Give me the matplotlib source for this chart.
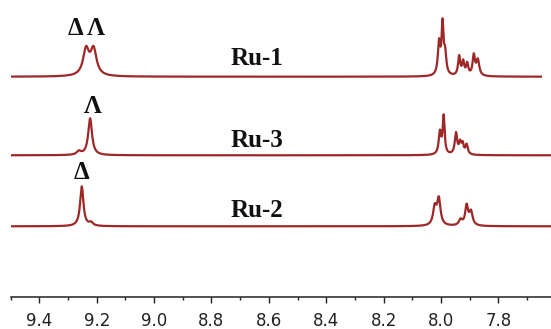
import numpy as np
import matplotlib
matplotlib.use("Agg")
import matplotlib.pyplot as plt

# ---- data (ppm, apex intensity, half-width ppm) ----
ru1_ppm = [9.237, 9.211, 8.007, 7.995, 7.986, 7.937, 7.923, 7.909, 7.886, 7.872]
ru1_height = [30.7, 30.7, 38.4, 58.4, 30.7, 21.7, 17.4, 15.0, 23.4, 18.4]
ru1_width = [0.0125, 0.0125, 0.005, 0.004, 0.005, 0.0045, 0.0045, 0.0045, 0.005, 0.006]

ru3_ppm = [9.262, 9.223, 8.004, 7.991, 7.948, 7.934, 7.925, 7.911]
ru3_height = [5.0, 37.0, 25.7, 41.0, 23.3, 15.7, 14.3, 11.7]
ru3_width = [0.009, 0.008, 0.005, 0.004, 0.005, 0.0045, 0.0045, 0.005]

ru2_ppm = [9.252, 9.220, 8.022, 8.008, 7.932, 7.911, 7.896]
ru2_height = [40.0, 5.0, 23.0, 30.0, 8.0, 22.7, 16.7]
ru2_width = [0.007, 0.008, 0.007, 0.007, 0.007, 0.006, 0.007]

ppm_range = [(9.50, 7.652), (9.50, 7.617), (9.50, 7.617)]
names = ["Ru-1", "Ru-3", "Ru-2"]
isomer_labels = ["\u0394 \u039b", "\u039b", "\u0394"]
isomer_ppm = [9.234, 9.212, 9.252]

major_ticks = [9.4, 9.2, 9.0, 8.8, 8.6, 8.4, 8.2, 8.0, 7.8]
minor_ticks = [9.5, 9.3, 9.1, 8.9, 8.7, 8.5, 8.3, 8.1, 7.9, 7.7]

# ---- layout ----
offsets = [220.0, 141.4, 70.4]
name_dy = [11.5, 8.0, 9.0]
iso_top = [261.7, 183.4, 117.7]
line_color = "#9e2828"


def spectrum(x, pos, hts, wid):
    pos = np.asarray(pos); hts = np.asarray(hts); wid = np.asarray(wid)
    def lor(xx, p, w):
        return w**2 / ((xx - p) ** 2 + w**2)
    M = np.array([[lor(pi, pj, wj) for pj, wj in zip(pos, wid)] for pi in pos])
    amps = np.clip(np.linalg.solve(M, hts), 0, None)
    y = np.zeros_like(x)
    for a, p, w in zip(amps, pos, wid):
        y += a * lor(x, p, w)
    return y


W, H = 551, 329
fig = plt.figure(figsize=(W / 100, H / 100), dpi=100)
x0 = 10.6 / W
y0 = (H - 296.7) / H
ax = fig.add_axes([x0, y0, 1 - x0, 1 - y0])
ax.set_xlim(9.5, 7.617)
ax.set_ylim(0, 296.7)

specs = [(ru1_ppm, ru1_height, ru1_width),
         (ru3_ppm, ru3_height, ru3_width),
         (ru2_ppm, ru2_height, ru2_width)]
for i, (p, h, w) in enumerate(specs):
    a, b = ppm_range[i]
    x = np.linspace(a, b, 5000)
    y = spectrum(x, p, h, w) + offsets[i]
    ax.plot(x, y, color=line_color, lw=1.6, solid_joinstyle="round")
    ax.text(8.64, offsets[i] + name_dy[i], names[i], ha="center", va="baseline",
            fontsize=18, fontweight="bold", family="Liberation Serif", color="#111111")
    ax.text(isomer_ppm[i], iso_top[i], isomer_labels[i], ha="center", va="baseline",
            fontsize=18, fontweight="bold", family="Liberation Serif", color="#111111")

for s in ["top", "left", "right"]:
    ax.spines[s].set_visible(False)
ax.spines["bottom"].set_linewidth(1.1)
ax.spines["bottom"].set_color("#222222")
ax.set_yticks([])
ax.set_xticks(major_ticks)
ax.set_xticklabels([f"{t:.1f}" for t in major_ticks])
ax.set_xticks(minor_ticks, minor=True)
ax.tick_params(axis="x", which="major", length=4.3, width=1.0, color="#222222",
               labelsize=12, pad=7, labelcolor="#222222")
ax.tick_params(axis="x", which="minor", length=2.2, width=1.0, color="#222222")
ax.patch.set_visible(False)

fig.savefig("out.png", dpi=100)
